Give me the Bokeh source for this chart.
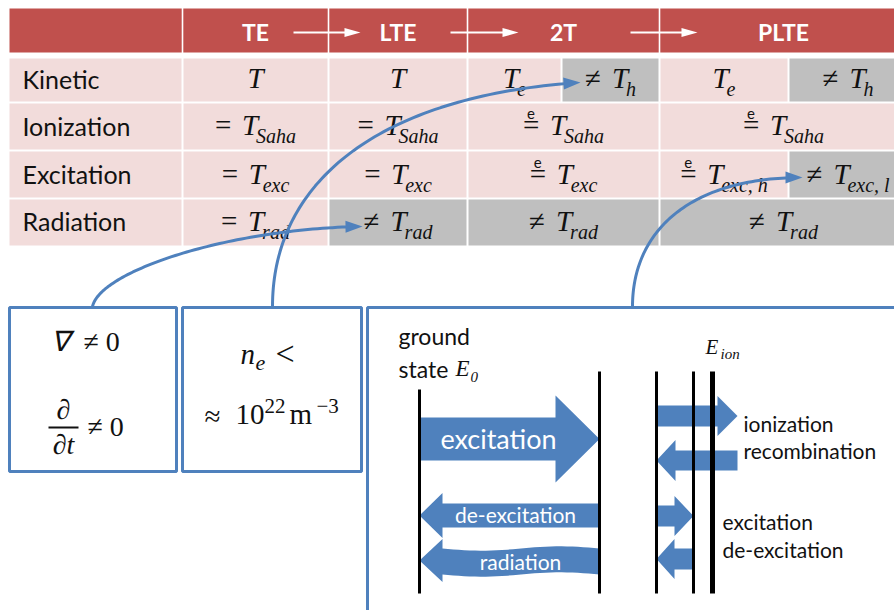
import numpy as np
from bokeh.plotting import figure
from bokeh.models import Range1d
from bokeh.core.properties import value
from bokeh.embed import file_html
from bokeh.resources import INLINE

# ---------------- data ----------------
regimes = ["TE", "LTE", "2T", "PLTE"]
quantities = ["Kinetic", "Ionization", "Excitation", "Radiation"]

# one entry per table cell: row, regime column, part (0 full, 1 left half, 2 right half)
cell_row = [0, 0, 0, 0, 0, 0, 1, 1, 1, 1, 2, 2, 2, 2, 2, 3, 3, 3, 3]
cell_col = [0, 1, 2, 2, 3, 3, 0, 1, 2, 3, 0, 1, 2, 3, 3, 0, 1, 2, 3]
cell_part = [0, 0, 1, 2, 1, 2, 0, 0, 0, 0, 0, 0, 0, 1, 2, 0, 0, 0, 0]
cell_rel = ["", "", "", "≠", "", "≠", "=", "=", "≗", "≗", "=", "=", "≗", "≗", "≠", "=", "≠", "≠", "≠"]
cell_sym = ["T"] * 19
cell_sub = ["", "", "e", "h", "e", "h", "Saha", "Saha", "Saha", "Saha",
            "exc", "exc", "exc", "exc, h", "exc, l", "rad", "rad", "rad", "rad"]
cell_differs = [False, False, False, True, False, True, False, False, False, False,
                False, False, False, False, True, False, True, True, True]

# energy-level diagram
arrow_labels = ["excitation", "de-excitation", "radiation"]
side_labels = ["ionization", "recombination", "excitation", "de-excitation"]

# ---------------- style / layout ----------------
RED, PINK, GRAY, BLUE = "#C0504D", "#F2DCDB", "#BFBFBF", "#4F81BD"
INK = "#111111"
SANS, SERIF = "Lato", "Liberation Serif"
K = 0.38  # baseline correction (fraction of font size)

COL_EDGES = [9, 182, 328, 467, 659, 907]
COL_SPLIT = {2: 561, 3: 788}
ROW_TOP = [58, 103, 151, 199]
ROW_BOT = [101, 149, 197, 245]
ROW_BASE = [89, 136, 185, 232]
LABEL_BASE = [88, 135, 183, 230]
HEAD_TOP, HEAD_BOT = 8, 52

p = figure(width=894, height=610, x_range=Range1d(0, 894), y_range=Range1d(610, 0),
           output_backend="svg", toolbar_location=None, min_border=0,
           x_axis_type=None, y_axis_type=None)
p.outline_line_color = None
p.background_fill_color = "white"
p.border_fill_color = "white"


def txt(xs, bases, texts, size, font=SANS, style="normal", color=INK, align="left"):
    p.text(x=list(xs), y=[b - K * size for b in bases], text=list(texts),
           text_align=align, text_baseline="alphabetic", text_font=value(font),
           text_font_style=style, text_font_size=f"{size}px", text_color=color)


def tri(tip, d, length, half):
    d = np.asarray(d, float)
    d = d / np.hypot(*d)
    n = np.array([-d[1], d[0]])
    tip = np.asarray(tip, float)
    b = tip - d * length
    pts = [tip, b + n * half, b - n * half]
    return [q[0] for q in pts], [q[1] for q in pts]


# ---- header ----
hl = [COL_EDGES[0]] + [e + 0.8 for e in COL_EDGES[1:-1]]
hr = [e - 0.8 for e in COL_EDGES[1:-1]] + [COL_EDGES[-1]]
p.quad(left=hl, right=hr, top=[HEAD_TOP] * 5, bottom=[HEAD_BOT] * 5,
       fill_color=RED, line_color=None)
hcx = [(COL_EDGES[i + 1] + COL_EDGES[i + 2]) / 2 for i in range(4)]
txt(hcx, [40] * 4, regimes, 23, style="bold", color="white", align="center")

for xs_, xe_ in [(293, 360), (450, 518), (630, 697)]:
    p.line([xs_, xe_ - 12], [32, 32], line_color="white", line_width=2)
    tx, ty = tri((xe_, 32), (1, 0), 16, 4.5)
    p.patch(tx, ty, fill_color="white", line_color=None)

# ---- row label cells ----
p.quad(left=[COL_EDGES[0]] * 4, right=[COL_EDGES[1] - 1] * 4, top=ROW_TOP, bottom=ROW_BOT,
       fill_color=PINK, line_color=None)
txt([22] * 4, LABEL_BASE, quantities, 25)

# ---- value cells ----
SUB_W = {'S': .5, 'a': .5, 'h': .5, 'e': .444, 'x': .444, 'c': .444, 'r': .389,
         'd': .5, ',': .25, ' ': .25, 'l': .278}
MAIN, SUB = 29, 20
REL_W, T_W, T_FULL = 27, 14, 16

L, R, T, B, C = [], [], [], [], []
rel_x, rel_y, rel_t = [], [], []
e_x, e_y = [], []
sym_x, sym_y, sym_t = [], [], []
sub_x, sub_y, sub_t = [], [], []
for i in range(len(cell_row)):
    r, c, part = cell_row[i], cell_col[i], cell_part[i]
    x0, x1 = COL_EDGES[c + 1] + 1, COL_EDGES[c + 2] - 1
    if part == 1:
        x1 = COL_SPLIT[c] - 1
    elif part == 2:
        x0 = COL_SPLIT[c] + 1
    L.append(x0); R.append(x1); T.append(ROW_TOP[r]); B.append(ROW_BOT[r])
    C.append(GRAY if cell_differs[i] else PINK)
    cx = (x0 + x1) / 2
    rw = REL_W if cell_rel[i] else 0
    sw = sum(SUB_W.get(ch, .5) for ch in cell_sub[i]) * SUB
    total = rw + (T_W + sw if cell_sub[i] else T_FULL)
    xs = cx - total / 2
    if cell_rel[i]:
        rel_x.append(xs); rel_y.append(ROW_BASE[r])
        rel_t.append("=" if cell_rel[i] == "≗" else cell_rel[i])
        if cell_rel[i] == "≗":
            e_x.append(xs + 8); e_y.append(ROW_BASE[r] - 17)
    sym_x.append(xs + rw); sym_y.append(ROW_BASE[r]); sym_t.append(cell_sym[i])
    if cell_sub[i]:
        sub_x.append(xs + rw + T_W); sub_y.append(ROW_BASE[r] + 7); sub_t.append(cell_sub[i])

p.quad(left=L, right=R, top=T, bottom=B, fill_color=C, line_color=None)
txt(rel_x, rel_y, rel_t, MAIN, font=SERIF)
txt(e_x, e_y, ["e"] * len(e_x), 15, align="center")
txt(sym_x, sym_y, sym_t, MAIN, font=SERIF, style="italic")
txt(sub_x, sub_y, sub_t, SUB, font=SERIF, style="italic")

# ---- curved connectors ----
curves = [
    [(92, 306), (100, 270), (230, 228), (362, 226)],
    [(272, 306), (272, 180), (380, 95), (580, 82)],
    [(632, 306), (632, 230), (690, 177), (802, 177)],
]
tt = np.linspace(0, 1, 80)
for P in curves:
    P = np.array(P, float)
    pts = ((1 - tt) ** 3)[:, None] * P[0] + (3 * (1 - tt) ** 2 * tt)[:, None] * P[1] \
        + (3 * (1 - tt) * tt ** 2)[:, None] * P[2] + (tt ** 3)[:, None] * P[3]
    keep = np.hypot(pts[:, 0] - P[3][0], pts[:, 1] - P[3][1]) > 12
    p.line(pts[keep, 0], pts[keep, 1], line_color=BLUE, line_width=3)
    hx, hy = tri(P[3], P[3] - P[2], 17, 6)
    p.patch(hx, hy, fill_color=BLUE, line_color=None)

# ---- bottom boxes ----
p.quad(left=[9, 182], right=[176, 361], top=[307, 307], bottom=[471, 471],
       fill_color=None, line_color=BLUE, line_width=3)
p.quad(left=[367], right=[1000], top=[307], bottom=[700],
       fill_color=None, line_color=BLUE, line_width=3)

# box 1: gradients
txt([50], [352], ["∇"], 28, font=SERIF, style="italic")
txt([83, 87], [352, 437], ["≠ 0", "≠ 0"], 28, font=SERIF)
txt([63, 63], [420, 455], ["∂", "∂t"], 28, font=SERIF, style="italic", align="center")
p.line([48, 78], [427, 427], line_color=INK, line_width=2)

# box 2: density
txt([240], [365], ["n"], 29, font=SERIF, style="italic")
txt([255], [371], ["e"], 22, font=SERIF, style="italic")
txt([275], [366], ["<"], 34, font=SERIF)
txt([204, 235, 289], [427, 425, 425], ["≈", "10", "m"], 29, font=SERIF)
txt([264, 316], [413, 413], ["22", "−3"], 21, font=SERIF)


# ---- energy-level diagram ----
def block_arrow(x_from, x_to, yc, sh, hh, hl_):
    s = 1 if x_to > x_from else -1
    xb = x_to - s * hl_
    xs = [x_from, xb, xb, x_to, xb, xb, x_from]
    ys = [yc - sh, yc - sh, yc - hh, yc, yc + hh, yc + sh, yc + sh]
    return xs, ys


arrows = [
    (419, 599, 438.5, 21.5, 43.5, 44),
    (599, 419, 515, 12, 22.5, 23),
    (656, 737, 415.5, 10.5, 20, 20),
    (737, 656, 460, 10, 20.5, 19),
    (656, 693, 515.5, 10.5, 20, 19),
    (693, 656, 558.5, 10.5, 20, 18),
]
AX, AY = [], []
for a in arrows:
    ax_, ay_ = block_arrow(*a)
    AX.append(ax_); AY.append(ay_)
# wavy radiation arrow
wx = np.linspace(599, 442, 30)
wave = 2.2 * np.sin((wx - 442) / 157 * 2 * np.pi)
rx = list(wx) + [442, 442, 419, 442, 442] + list(wx[::-1])
ry = list(548 + wave) + [548, 538.5, 560, 581.5, 574] + list((574 + wave)[::-1])
AX.append(rx); AY.append(ry)
p.patches(AX, AY, fill_color=BLUE, line_color=None)

lvl_x = [419, 599, 656, 693, 712]
lvl_top = [389, 371, 371, 371, 371]
lvl_w = [3, 3, 3, 3, 5]
for x, t, w in zip(lvl_x, lvl_top, lvl_w):
    p.line([x, x], [t, 593], line_color="black", line_width=w)

txt([498], [448], arrow_labels[:1], 27, color="white", align="center")
txt([515, 520], [522, 569], arrow_labels[1:], 21, color="white", align="center")
txt([743, 743, 722, 722], [431, 458, 529, 557], side_labels, 21)
txt([398, 398], [344, 377], ["ground", "state"], 23)
txt([455], [377], ["E"], 23, font=SERIF, style="italic")
txt([705], [354], ["E"], 21, font=SERIF, style="italic")
txt([470, 720], [382, 359], ["0", "ion"], 15, font=SERIF, style="italic")

open("out.html", "w").write(file_html(p, INLINE))
